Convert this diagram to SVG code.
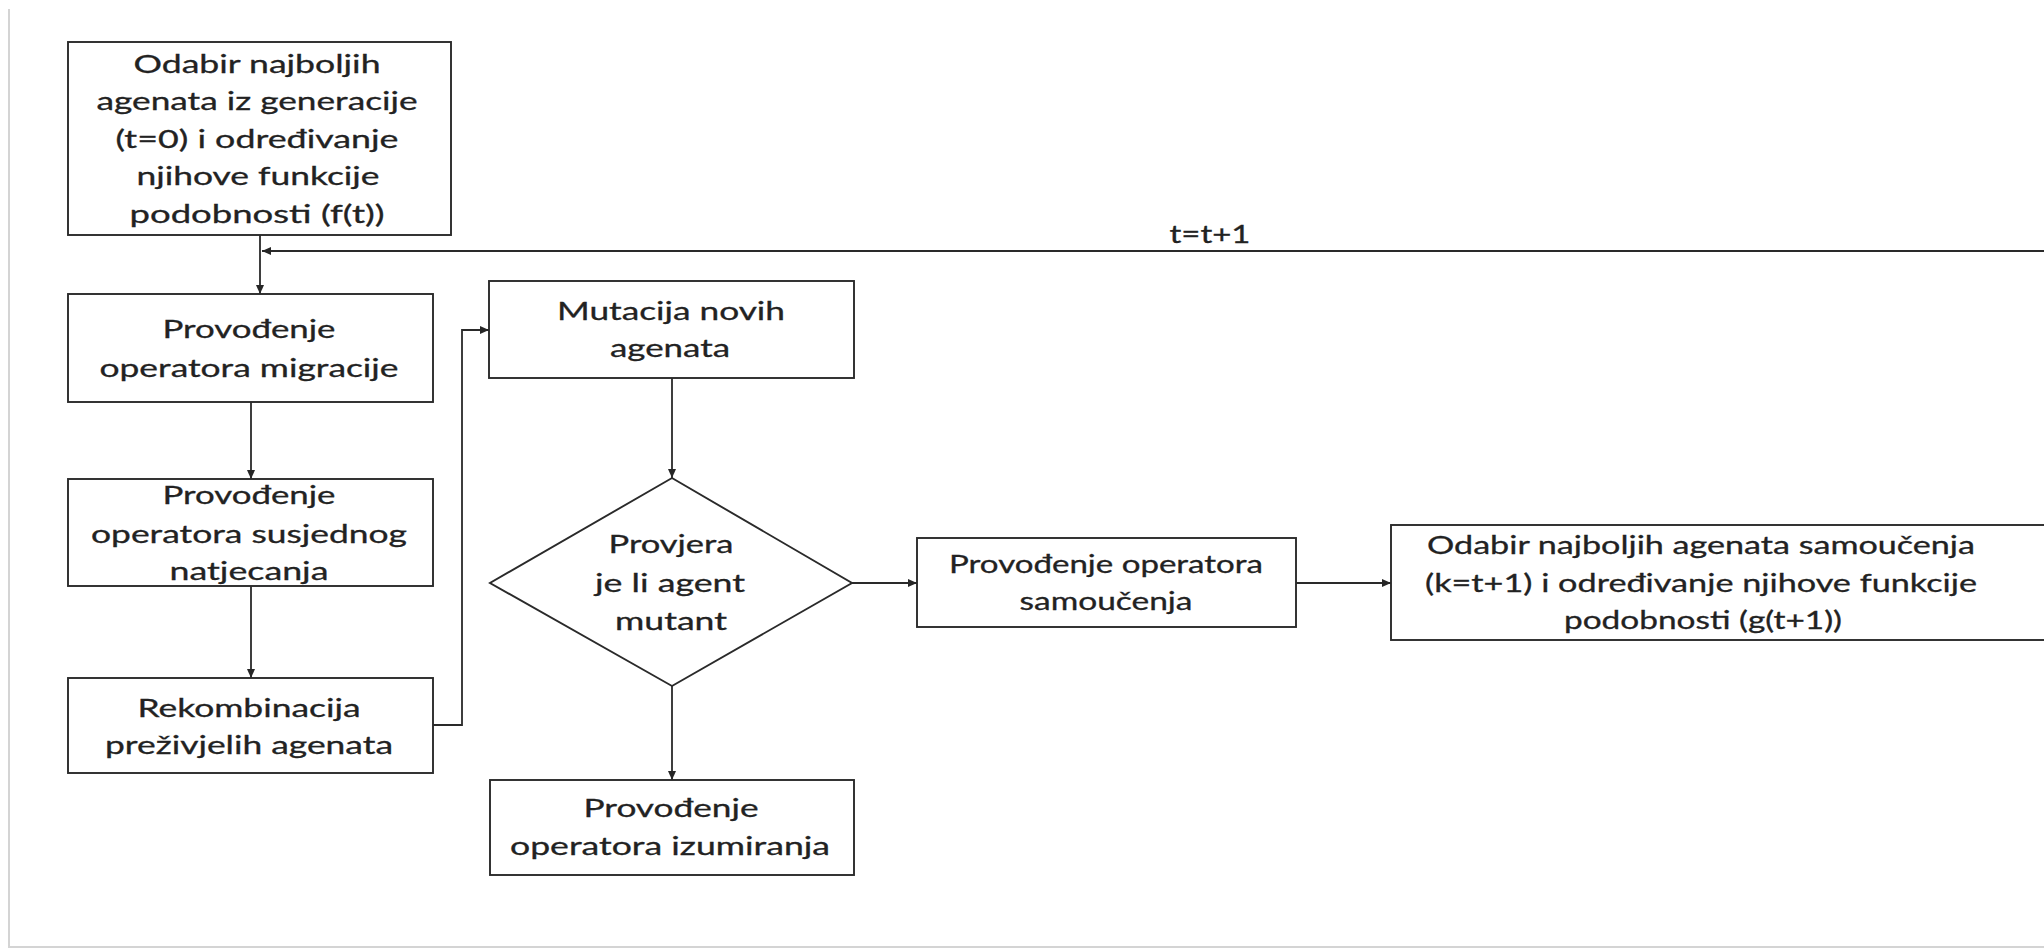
<svg xmlns="http://www.w3.org/2000/svg" width="2044" height="948" viewBox="0 0 2044 948">
  <defs>
    <marker id="arr" markerUnits="userSpaceOnUse" markerWidth="10" markerHeight="8" refX="9" refY="4" orient="auto">
      <path d="M0,0 L9,4 L0,8 z" fill="#262626"/>
    </marker>
    <style>
      .box { fill: #ffffff; stroke: #2a2a2a; stroke-width: 1.9; }
      .conn { fill: none; stroke: #2a2a2a; stroke-width: 1.8; }
      .t { font-family: Lato, "Liberation Sans", sans-serif; font-size: 25px; fill: #222222; stroke: #222222; stroke-width: 0.3; text-anchor: middle; }
      .frame { stroke: #d4d4d4; stroke-width: 2; fill: none; }
    </style>
  </defs>

  <rect x="0" y="0" width="2044" height="948" fill="#ffffff"/>
  <path class="frame" d="M9,9 L9,947 L2044,947"/>

  <g id="connectors">
    <path class="conn" d="M260,235 L260,294" marker-end="url(#arr)"/>
    <path class="conn" d="M2050,251 L262,251" marker-end="url(#arr)"/>
    <path class="conn" d="M251,402 L251,479" marker-end="url(#arr)"/>
    <path class="conn" d="M251,586 L251,678" marker-end="url(#arr)"/>
    <path class="conn" d="M433,725 L462,725 L462,330 L489,330" marker-end="url(#arr)"/>
    <path class="conn" d="M672,378 L672,478" marker-end="url(#arr)"/>
    <path class="conn" d="M672,686 L672,780" marker-end="url(#arr)"/>
    <path class="conn" d="M852,583 L917,583" marker-end="url(#arr)"/>
    <path class="conn" d="M1296,583 L1391,583" marker-end="url(#arr)"/>
    <text class="t" x="1210" y="243" textLength="81" lengthAdjust="spacingAndGlyphs">t=t+1</text>
  </g>

  <g id="n1">
    <rect class="box" x="68" y="42" width="383" height="193"/>
    <text class="t" x="257" y="73" textLength="247" lengthAdjust="spacingAndGlyphs">Odabir najboljih</text>
    <text class="t" x="257" y="110" textLength="321" lengthAdjust="spacingAndGlyphs">agenata iz generacije</text>
    <text class="t" x="257" y="148" textLength="283" lengthAdjust="spacingAndGlyphs">(t=0) i određivanje</text>
    <text class="t" x="258" y="185" textLength="243" lengthAdjust="spacingAndGlyphs">njihove funkcije</text>
    <text class="t" x="257" y="223" textLength="255" lengthAdjust="spacingAndGlyphs">podobnosti (f(t))</text>
  </g>

  <g id="n2">
    <rect class="box" x="68" y="294" width="365" height="108"/>
    <text class="t" x="249" y="338" textLength="173" lengthAdjust="spacingAndGlyphs">Provođenje</text>
    <text class="t" x="249" y="377" textLength="299" lengthAdjust="spacingAndGlyphs">operatora migracije</text>
  </g>

  <g id="n3">
    <rect class="box" x="68" y="479" width="365" height="107"/>
    <text class="t" x="249" y="504" textLength="173" lengthAdjust="spacingAndGlyphs">Provođenje</text>
    <text class="t" x="249" y="543" textLength="316" lengthAdjust="spacingAndGlyphs">operatora susjednog</text>
    <text class="t" x="249" y="580" textLength="159" lengthAdjust="spacingAndGlyphs">natjecanja</text>
  </g>

  <g id="n4">
    <rect class="box" x="68" y="678" width="365" height="95"/>
    <text class="t" x="249" y="717" textLength="223" lengthAdjust="spacingAndGlyphs">Rekombinacija</text>
    <text class="t" x="249" y="754" textLength="288" lengthAdjust="spacingAndGlyphs">preživjelih agenata</text>
  </g>

  <g id="n5">
    <rect class="box" x="489" y="281" width="365" height="97"/>
    <text class="t" x="671" y="320" textLength="228" lengthAdjust="spacingAndGlyphs">Mutacija novih</text>
    <text class="t" x="670" y="357" textLength="120" lengthAdjust="spacingAndGlyphs">agenata</text>
  </g>

  <g id="n6">
    <polygon class="box" points="672,478 852,583 672,686 490,583"/>
    <text class="t" x="671" y="553" textLength="125" lengthAdjust="spacingAndGlyphs">Provjera</text>
    <text class="t" x="670" y="592" textLength="150" lengthAdjust="spacingAndGlyphs">je li agent</text>
    <text class="t" x="671" y="630" textLength="112" lengthAdjust="spacingAndGlyphs">mutant</text>
  </g>

  <g id="n7">
    <rect class="box" x="490" y="780" width="364" height="95"/>
    <text class="t" x="671" y="817" textLength="175" lengthAdjust="spacingAndGlyphs">Provođenje</text>
    <text class="t" x="670" y="855" textLength="320" lengthAdjust="spacingAndGlyphs">operatora izumiranja</text>
  </g>

  <g id="n8">
    <rect class="box" x="917" y="538" width="379" height="89"/>
    <text class="t" x="1106" y="573" textLength="314" lengthAdjust="spacingAndGlyphs">Provođenje operatora</text>
    <text class="t" x="1106" y="610" textLength="173" lengthAdjust="spacingAndGlyphs">samoučenja</text>
  </g>

  <g id="n9">
    <rect class="box" x="1391" y="525" width="700" height="115"/>
    <text class="t" x="1701" y="554" textLength="548" lengthAdjust="spacingAndGlyphs">Odabir najboljih agenata samoučenja</text>
    <text class="t" x="1701" y="592" textLength="552" lengthAdjust="spacingAndGlyphs">(k=t+1) i određivanje njihove funkcije</text>
    <text class="t" x="1703" y="629" textLength="278" lengthAdjust="spacingAndGlyphs">podobnosti (g(t+1))</text>
  </g>
</svg>
